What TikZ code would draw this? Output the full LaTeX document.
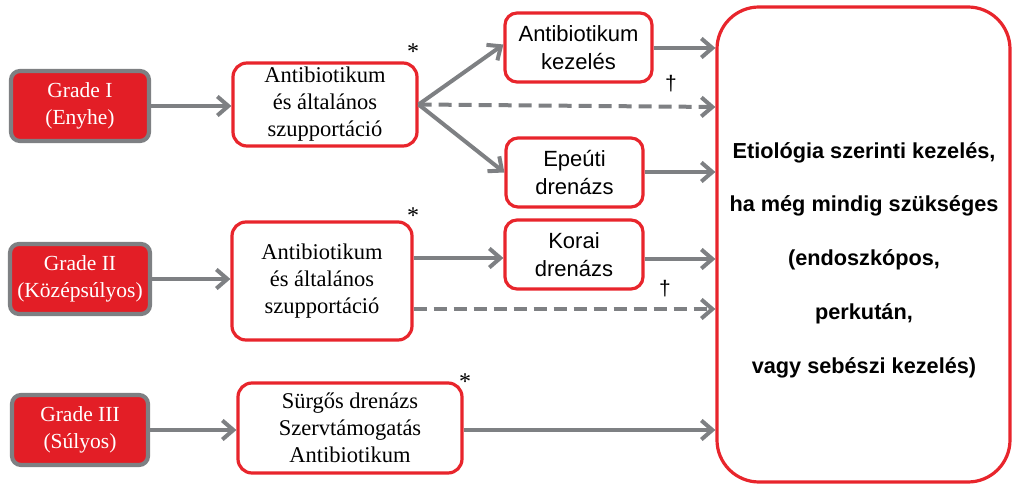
\documentclass[tikz,border=0pt]{standalone}
\usepackage{fontspec}
\setmainfont{Liberation Serif}
\setsansfont{Liberation Sans}
\usetikzlibrary{arrows.meta}
\definecolor{gradered}{HTML}{E31E26}
\definecolor{boxred}{HTML}{E8252C}
\definecolor{arrowgray}{HTML}{7E8083}
\tikzset{
  gradebox/.style={draw=arrowgray, line width=4.2pt, fill=gradered, rounded corners=9pt,
    inner sep=0pt, align=center, text=white, font=\fontsize{21.5}{27}\selectfont},
  serifbox/.style={draw=boxred, line width=3.2pt, fill=white, rounded corners=14pt,
    inner sep=0pt, align=center, font=\fontsize{22.5}{27}\selectfont},
  sansbox/.style={draw=boxred, line width=3.2pt, fill=white, rounded corners=12pt,
    inner sep=0pt, align=center, font=\sffamily\fontsize{22}{28}\selectfont},
  bigbox/.style={draw=boxred, line width=3.2pt, fill=white, rounded corners=42pt,
    inner sep=0pt},
  bigtextstyle/.style={inner sep=0pt, align=center, font=\sffamily\bfseries\fontsize{21.7}{53.8}\selectfont},
  flow/.style={draw=arrowgray, line width=4pt, -{Straight Barb[length=11pt,width=19pt,line width=4pt]}},
  optflow/.style={flow, dash pattern=on 13pt off 7pt},
  note/.style={inner sep=0pt, font=\fontsize{24}{24}\selectfont},
  daggerstyle/.style={inner sep=0pt, font=\sffamily\fontsize{21}{21}\selectfont},
}
\begin{document}
\begin{tikzpicture}[x=1pt,y=-1pt]
\useasboundingbox (0,0) rectangle (1013,486);

% severity grades
\node[gradebox, minimum width=138pt, minimum height=70pt] (g1) at (80,106) {Grade I\\(Enyhe)};
\node[gradebox, minimum width=140pt, minimum height=70pt] (g2) at (80,279) {Grade II\\(Középsúlyos)};
\node[gradebox, minimum width=136pt, minimum height=70pt] (g3) at (80,430) {Grade III\\(Súlyos)};

% initial management
\node[serifbox, minimum width=184pt, minimum height=83pt] (b1) at (325,104.5) {Antibiotikum\\és általános\\szupportáció};
\node[serifbox, minimum width=180pt, minimum height=118pt] (b2) at (322,281) {Antibiotikum\\és általános\\szupportáció};
\node[serifbox, minimum width=224pt, minimum height=90pt] (b3) at (350,428) {Sürgős drenázs\\Szervtámogatás\\Antibiotikum};

% follow-up steps
\node[sansbox, minimum width=147pt, minimum height=69pt] (k1) at (578.5,47.5) {Antibiotikum\\kezelés};
\node[sansbox, minimum width=137pt, minimum height=69pt] (k2) at (574.5,172.5) {Epeúti\\drenázs};
\node[sansbox, minimum width=138pt, minimum height=69pt] (k3) at (574,254.5) {Korai\\drenázs};

% final treatment
\node[bigbox, minimum width=293pt, minimum height=475pt] (big) at (863.5,244.5) {};
\node[bigtextstyle] (bigtext) at (864,260)
  {Etiológia szerinti kezelés,\\ha még mindig szükséges\\(endoszkópos,\\perkután,\\vagy sebészi kezelés)};

% footnote marks
\node[note] (s1) at (413,52) {*};
\node[note] (s2) at (413,216) {*};
\node[note] (s3) at (465,382) {*};
\node[daggerstyle] (d1) at (671,84) {†};
\node[daggerstyle] (d2) at (665,289) {†};

% connectors
\coordinate (b1o) at (b1.east);
\draw[flow] (g1.east) -- (b1.west |- g1.east);
\draw[flow] (g2.east) -- (b2.west |- g2.east);
\draw[flow] (g3.east) -- (b3.west |- g3.east);
\draw[flow] (b1o) -- ([yshift=3pt]k1.west);
\draw[flow] (b1o) -- (k2.west);
\draw[optflow] (b1o) -- (big.west |- 0,107);
\draw[flow] (k1.east |- 0,48) -- (big.west |- 0,48);
\draw[flow] (k2.east |- 0,172) -- (big.west |- 0,172);
\draw[flow] (b2.east |- 0,258) -- (k3.west |- 0,258);
\draw[flow] (k3.east |- 0,259) -- (big.west |- 0,259);
\draw[optflow] (b2.east |- 0,309) -- (big.west |- 0,309);
\draw[flow] (b3.east |- 0,430) -- (big.west |- 0,430);
\end{tikzpicture}
\end{document}
